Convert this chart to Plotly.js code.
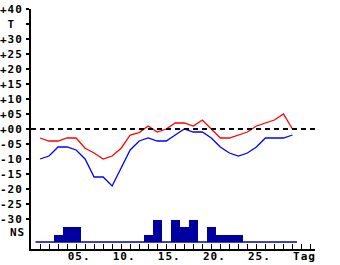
<!DOCTYPE html>
<html>
<head>
<meta charset="utf-8">
<script src="https://cdn.plot.ly/plotly-3.0.1.min.js"></script>
<style>html,body{margin:0;padding:0;background:#fff;}#chart{width:340px;height:265px;}
#chart .xtick text, #chart .ytick text, #chart .annotation-text{letter-spacing:1px;}</style>
</head>
<body>
<div id="chart"></div>
<script>
var days = [1,2,3,4,5,6,7,8,9,10,11,12,13,14,15,16,17,18,19,20,21,22,23,24,25,26,27,28,29];
var tMax = [-3,-4,-4,-3,-3,-6.4,-8,-10,-9,-6.4,-2,-1.2,1,-1,0,2,2,1,3,0,-3,-3,-2,-1,1,2,3,5,0];
var tMin = [-10,-9,-6,-6,-7,-10,-16,-16,-19,-13,-7,-4,-3,-4,-4,-2,0,-1,-1,-3,-6,-8,-9,-8,-6,-3,-3,-3,-2];
var precipLevel = [0,0,1,2,2,0,0,0,0,0,0,0,1,3,0,3,2,3,0,2,1,1,1,0,0,0,0,0,0];
var yTickVals = [40,35,30,25,20,15,10,5,0,-5,-10,-15,-20,-25,-30];
var yTickText = ['+40','\u00a0T\u00a0','+30','+25','+20','+15','+10','+05','+00','-05','-10','-15','-20','-25','-30'];
var xLabelDays = [5,10,15,20,25,30];
var xLabelText = ['05.','10.','15.','20.','25.','Tag'];

var precipBase = -37.7;
var precipUnit = 2.5;

var xTickVals = [], xTickText = [];
for (var d = 1; d <= 31; d++) {
  xTickVals.push(d);
  var i = xLabelDays.indexOf(d);
  xTickText.push(i >= 0 ? xLabelText[i] : '');
}

var navy = '#0000a0';
var tf = {family: 'DejaVu Sans Mono, monospace', size: 11, color: '#000', weight: 'bold'};

var traces = [
  {x: days, y: precipLevel.map(function(v){return v*precipUnit;}), base: precipBase, type: 'bar', width: 1,
   marker: {color: navy, line: {width: 0}}, hoverinfo: 'skip'},
  {x: [days[0]-0.5, days[days.length-1]+0.5], y: [precipBase, precipBase], mode: 'lines',
   line: {color: navy, width: 1.5}},
  {x: days, y: tMax, mode: 'lines', line: {color: '#ff0000', width: 1.3}},
  {x: days, y: tMin, mode: 'lines', line: {color: '#0000ff', width: 1.3}}
];

var layout = {
  width: 340, height: 265,
  margin: {l: 31, r: 25, t: 9, b: 16, pad: 0},
  paper_bgcolor: '#fff', plot_bgcolor: '#fff',
  showlegend: false,
  bargap: 0,
  font: tf,
  xaxis: {range: [0, 31.5], tickmode: 'array', tickvals: xTickVals, ticktext: xTickText,
    ticks: 'inside', ticklen: 5, tickwidth: 1, tickcolor: '#000',
    showline: true, linecolor: '#000', linewidth: 2, showgrid: false, zeroline: false,
    tickfont: tf, ticklabelstandoff: -4, ticklabelshift: 3},
  yaxis: {range: [-40, 40], tickmode: 'array', tickvals: yTickVals, ticktext: yTickText,
    ticks: 'outside', ticklen: 3, tickwidth: 2, tickcolor: '#000',
    showline: true, linecolor: '#000', linewidth: 2, showgrid: false, zeroline: false,
    tickfont: tf, ticklabelstandoff: 1},
  shapes: [
    {type: 'line', xref: 'paper', x0: 0, x1: 1, yref: 'y', y0: 0, y1: 0,
     line: {color: '#000', width: 2, dash: '5px,4px'}}
  ],
  annotations: [
    {text: 'NS', xref: 'paper', x: 0, xanchor: 'right', xshift: -5, yref: 'y', y: -34.5,
     showarrow: false, font: tf}
  ]
};

Plotly.newPlot('chart', traces, layout, {staticPlot: true, displayModeBar: false});
</script>
</body>
</html>
